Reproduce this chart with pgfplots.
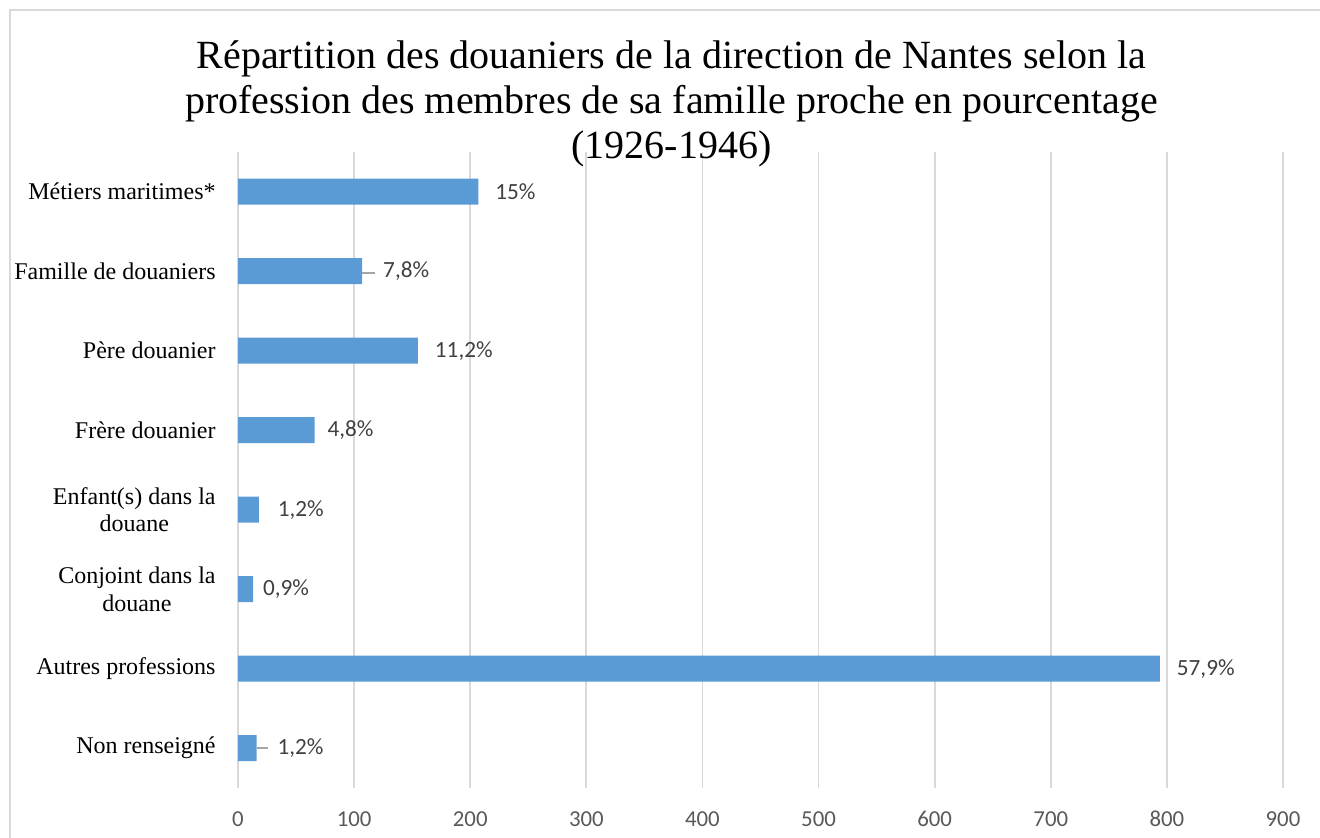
\documentclass[border=0pt]{standalone}
\usepackage{fontspec}
\setmainfont{Liberation Serif}
\newfontfamily\calibri{Carlito}
\usepackage{pgfplots}
\usepackage{pgfplotstable}
\pgfplotsset{compat=1.18}
\definecolor{barblue}{HTML}{5B9BD5}
\definecolor{gridgray}{HTML}{D9D9D9}
\definecolor{ticktext}{HTML}{595959}
\definecolor{labtext}{HTML}{404040}
\definecolor{leader}{HTML}{A6A6A6}
\pgfplotstableread{
y x lab dx
7 207 15\% 8.3
6 107 7,8\% 10.3
5 155 11,2\% 8.3
4 66 4,8\% 6.3
3 18 1,2\% 9.3
2 13 0,9\% 4.8
1 794 57,9\% 8.3
0 16 1,2\% 10.3
}\datatable
\begin{document}
\begin{tikzpicture}
\useasboundingbox (0,0) rectangle (660pt,419pt);
\begin{axis}[
  at={(119pt,25pt)}, anchor=south west,
  scale only axis, width=522.5pt, height=318pt,
  xmin=0, xmax=900, ymin=-0.5, ymax=7.5,
  xtick={0,100,...,900},
  ytick={0,...,7},
  yticklabels={Non renseigné, Autres professions, {Conjoint dans la\\douane}, {Enfant(s) dans la\\douane}, Frère douanier, Père douanier, Famille de douaniers, Métiers maritimes*},
  axis line style={draw=none},
  major tick length=0pt,
  xmajorgrids, ymajorgrids=false,
  grid style={gridgray, line width=0.9pt},
  /pgf/number format/assume math mode=true,
  xticklabel style={font=\calibri\fontsize{11.4}{13}\selectfont, text=ticktext, anchor=base, yshift=-19.3pt, inner sep=0pt},
  yticklabel style={font=\fontsize{12}{13.8}\selectfont, text=black, align=center, anchor=east, inner sep=0pt, xshift=-11pt},
  clip=false,
]
\addplot[xbar, bar width=13pt, fill=barblue, draw=none,
  point meta=explicit symbolic,
  visualization depends on={\thisrow{dx} \as \dx},
  nodes near coords,
  nodes near coords style={anchor=west, inner sep=0pt, xshift=\dx pt, font=\calibri\fontsize{11.6}{13}\selectfont, text=labtext},
] table[x=x, y=y, meta=lab] {\datatable};
\addplot[leader, line width=0.9pt, no marks] coordinates {(107,5.975) (118,5.975)};
\addplot[leader, line width=0.9pt, no marks] coordinates {(16.4,0) (25.8,0)};
\end{axis}
\node[anchor=base, font=\fontsize{20}{23}\selectfont, inner sep=0pt] at (335.75pt,384.5pt) {Répartition des douaniers de la direction de Nantes selon la};
\node[anchor=base, font=\fontsize{20}{23}\selectfont, inner sep=0pt] at (335.75pt,362pt) {profession des membres de sa famille proche en pourcentage};
\node[anchor=base, font=\fontsize{20}{23}\selectfont, inner sep=0pt] at (335.75pt,339.5pt) {(1926-1946)};
\draw[gridgray, line width=1pt] (5pt,0pt) -- (5pt,414pt) -- (660pt,414pt);
\end{tikzpicture}
\end{document}
